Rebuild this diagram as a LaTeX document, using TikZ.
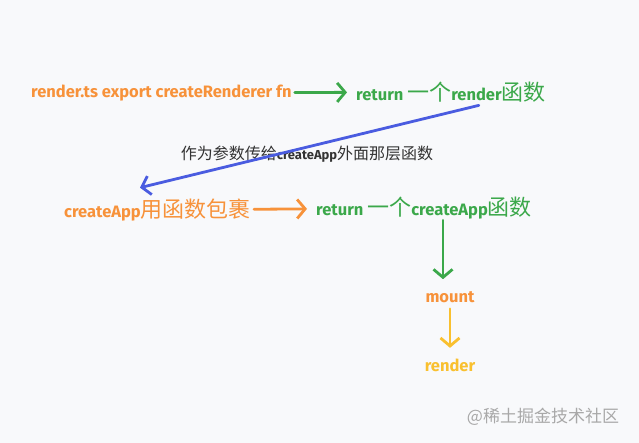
\documentclass[tikz,border=0pt]{standalone}
\usepackage{fontspec}
\setmainfont{Fira Sans}
\newfontfamily\cjk{Noto Sans CJK SC}
\newcommand\hanzi{\cjk\mdseries\fontsize{22}{24}\selectfont}
\usetikzlibrary{arrows.meta,positioning}
\definecolor{codeorange}{HTML}{F7923A}
\definecolor{codegreen}{HTML}{3BA84A}
\definecolor{passblue}{HTML}{4A5CE0}
\definecolor{callyellow}{HTML}{F9C02F}
\definecolor{notegray}{HTML}{333333}
\definecolor{markgray}{HTML}{A8A8A8}
\definecolor{paper}{HTML}{F8F9FB}

\begin{document}
\begin{tikzpicture}[x=1pt, y=-1pt,
      word/.style={font=\bfseries\fontsize{16.5}{19}\selectfont, inner sep=1pt},
      flow/.style={line width=2.8pt, line cap=round, line join=round,
        -{Straight Barb[length=8pt, width=19pt]}}]
      \fill[paper] (0,0) rectangle (639,443);

      \node (renderts) [word, text=codeorange, anchor=west] at (30,93) {render.ts export createRenderer fn};
      \node (retrender) [word, text=codegreen, anchor=west] at (355,92) {return {\hanzi 一个}render{\hanzi 函数}};
      \node (wrapapp) [word, text=codeorange, anchor=west] at (63,210) {createApp{\hanzi 用函数包裹}};
      \node (retapp) [word, text=codegreen, anchor=west] at (315,208) {return {\hanzi 一个}createApp{\hanzi 函数}};
      \node (mount) [word, text=codeorange] at (450,297) {mount};
      \node (rendercall) [word, text=callyellow, below=54pt of mount] {render};
      \node (note) [text=notegray, font=\cjk\fontsize{16}{18}\selectfont] at (307,154)
        {作为参数传给{\rmfamily\bfseries\fontsize{13}{15}\selectfont createApp}外面那层函数};
      \node (mark) [text=markgray, font=\cjk\fontsize{17}{19}\selectfont] at (543,417) {@稀土掘金技术社区};
      \coordinate (drop) at ([xshift=-7pt, yshift=11pt]mount.north);

      \draw[flow, codegreen, shorten <=2pt, shorten >=8pt] (renderts) -- (retrender);
      \draw[flow, passblue] ([xshift=-68pt, yshift=-2pt]retrender.south east) -- ([xshift=77pt, yshift=10pt]wrapapp.north west);
      \draw[flow, codeorange, shorten <=2pt, shorten >=8pt] (wrapapp) -- (retapp);
      \draw[flow, codegreen] (retapp.south -| drop) -- (drop);
      \draw[flow, callyellow] ([yshift=-5pt]mount.south) -- ([yshift=10pt]rendercall.north);
    \end{tikzpicture}
\end{document}
